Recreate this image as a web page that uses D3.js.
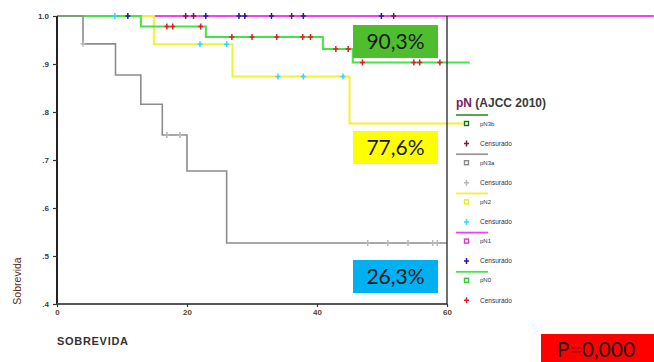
<!DOCTYPE html>
<html>
<head>
<meta charset="utf-8">
<script src="https://cdn.jsdelivr.net/npm/d3@7"></script>
<style>
  html, body { margin: 0; padding: 0; background: #fff; }
  svg { display: block; }
</style>
</head>
<body>
<svg id="chart" width="654" height="362"></svg>
<script>
// Kaplan-Meier survival by nodal stage, pN (AJCC 2010)
const groupNames = ["pN3b", "pN3a", "pN2", "pN1", "pN0"];

// step times (months) and survival after each step
const pN3bTimes = [0];
const pN3bSurv = [1.0];
const pN3bCensored = [19.8, 21.0, 36.1, 51.8];
const pN3bEnd = 60;

const pN3aTimes = [0, 4.0, 9.0, 12.9, 16.2, 20.0, 26.1];
const pN3aSurv = [1.0, 0.942, 0.877, 0.816, 0.752, 0.677, 0.527];
const pN3aCensored = [4.0, 16.9, 18.9, 47.8, 50.9, 54.0, 57.8, 58.5];
const pN3aEnd = 60;

const pN2Times = [0, 14.9, 27.0, 45.0];
const pN2Surv = [1.0, 0.941, 0.874, 0.776];
const pN2Censored = [8.9, 22.0, 26.1, 34.0, 37.9, 44.0];
const pN2End = 62.5;

const pN1Times = [0];
const pN1Surv = [1.0];
const pN1Censored = [10.9, 22.9, 28.0, 28.9, 33.0, 37.9, 49.9];
const pN1End = 91.8;

const pN0Times = [0, 12.9, 22.9, 40.9, 45.5];
const pN0Surv = [1.0, 0.978, 0.956, 0.931, 0.903];
const pN0Censored = [16.9, 17.8, 22.1, 26.9, 30.0, 33.8, 37.8, 39.0, 42.9, 44.8, 47.0, 54.9, 55.8, 58.9];
const pN0End = 63.5;

const xTicks = [0, 20, 40, 60];
const yTicks = [0.4, 0.5, 0.6, 0.7, 0.8, 0.9, 1.0];
const yTickLabels = [".4", ".5", ".6", ".7", ".8", ".9", "1.0"];

const boxLabels = ["90,3%", "77,6%", "26,3%"];
const boxValues = [0.903, 0.776, 0.263];
const pValueLabel = "P=0,000";

const legendTitle = ["pN", " (AJCC 2010)"];
const censorLabel = "Censurado";

// styling per group
const styles = {
  pN3b: { line: "#2f8f2f", legendLine: "#3f9f3f", marker: "#1f6f1f", censor: "#7a1a35", width: 2 },
  pN3a: { line: "#8c8c8c", legendLine: "#9a9a9a", marker: "#8a8a8a", censor: "#b8b8b8", width: 1.6 },
  pN2:  { line: "#f2f230", legendLine: "#f2f230", marker: "#e8e820", censor: "#30d8f8", width: 2 },
  pN1:  { line: "#f540f0", legendLine: "#f540f0", marker: "#e030e0", censor: "#1c1c9a", width: 2 },
  pN0:  { line: "#44e444", legendLine: "#44e444", marker: "#33cc33", censor: "#e02020", width: 2 }
};

const groups = {
  pN3b: { times: pN3bTimes, surv: pN3bSurv, cens: pN3bCensored, end: pN3bEnd },
  pN3a: { times: pN3aTimes, surv: pN3aSurv, cens: pN3aCensored, end: pN3aEnd },
  pN2:  { times: pN2Times,  surv: pN2Surv,  cens: pN2Censored,  end: pN2End },
  pN1:  { times: pN1Times,  surv: pN1Surv,  cens: pN1Censored,  end: pN1End },
  pN0:  { times: pN0Times,  surv: pN0Surv,  cens: pN0Censored,  end: pN0End }
};

const svg = d3.select("#chart");
const x = d3.scaleLinear().domain([0, 60]).range([57, 447]);
const y = d3.scaleLinear().domain([0.4, 1.0]).range([304, 16]);

function survAt(g, t) {
  let s = g.surv[0];
  for (let i = 0; i < g.times.length; i++) if (g.times[i] <= t) s = g.surv[i];
  return s;
}

const line = d3.line().x(d => x(d[0])).y(d => y(d[1])).curve(d3.curveStepAfter);

// draw order: lower layers first
const drawOrder = ["pN3b", "pN1", "pN2", "pN0", "pN3a"];
const curves = svg.append("g");
drawOrder.forEach(name => {
  const g = groups[name];
  const pts = g.times.map((t, i) => [t, g.surv[i]]);
  pts.push([g.end, g.surv[g.surv.length - 1]]);
  curves.append("path")
    .attr("d", line(pts))
    .attr("fill", "none")
    .attr("stroke", styles[name].line)
    .attr("stroke-width", styles[name].width);
});

// censoring ticks
const censors = svg.append("g");
drawOrder.forEach(name => {
  const g = groups[name];
  g.cens.forEach(t => {
    const cx = x(t), cy = y(survAt(g, t));
    censors.append("path")
      .attr("d", `M${cx - 2.5},${cy}H${cx + 2.5}M${cx},${cy - 3}V${cy + 3}`)
      .attr("stroke", styles[name].censor)
      .attr("stroke-width", 1.5);
  });
});

// axes
const yAxis = svg.append("g").attr("transform", "translate(57,0)")
  .call(d3.axisLeft(y).tickValues(yTicks).tickSize(4).tickPadding(4)
    .tickFormat((d, i) => yTickLabels[i]));
yAxis.select(".domain").attr("stroke", "#222").attr("stroke-width", 2).attr("d", "M0,16V304");
yAxis.selectAll(".tick line").attr("stroke", "#333").attr("stroke-width", 1.2);
yAxis.selectAll(".tick text")
  .attr("font-family", "Liberation Sans, Arial, sans-serif")
  .attr("font-size", 8).attr("font-weight", "bold").attr("fill", "#34405a");

const xAxis = svg.append("g").attr("transform", "translate(0,304)")
  .call(d3.axisBottom(x).tickValues(xTicks).tickSize(3).tickPadding(2).tickFormat(d3.format("d")));
xAxis.select(".domain").attr("stroke", "#555").attr("stroke-width", 2).attr("d", "M57,0H447");
xAxis.selectAll(".tick line").attr("stroke", "#333").attr("stroke-width", 1.2);
xAxis.selectAll(".tick text")
  .attr("font-family", "Liberation Sans, Arial, sans-serif")
  .attr("font-size", 8).attr("font-weight", "bold").attr("fill", "#5a4526");

// right frame edge
svg.append("line")
  .attr("x1", x(60)).attr("x2", x(60)).attr("y1", y(1.0)).attr("y2", y(0.4))
  .attr("stroke", "#222").attr("stroke-width", 1.3);

// axis titles
svg.append("text")
  .attr("transform", "translate(21,281) rotate(-90)")
  .attr("text-anchor", "middle")
  .attr("font-family", "Liberation Sans, Arial, sans-serif")
  .attr("font-size", 10.5).attr("fill", "#5b2c26")
  .text("Sobrevida");

svg.append("text")
  .attr("x", 57).attr("y", 345)
  .attr("font-family", "Liberation Sans, Arial, sans-serif")
  .attr("font-size", 11).attr("font-weight", "bold").attr("letter-spacing", 0.7)
  .attr("fill", "#333")
  .text("SOBREVIDA");

// legend
const legend = svg.append("g");
const lt = legend.append("text")
  .attr("x", 456).attr("y", 106.5)
  .attr("font-family", "Liberation Sans, Arial, sans-serif")
  .attr("font-size", 12).attr("font-weight", "bold").attr("fill", "#3a3a3a");
lt.append("tspan").attr("fill", "#7a2058").text(legendTitle[0]);
lt.append("tspan").text(legendTitle[1]);

groupNames.forEach((name, i) => {
  const top = 115 + i * 39.2;
  const st = styles[name];
  legend.append("line")
    .attr("x1", 456).attr("x2", 488).attr("y1", top).attr("y2", top)
    .attr("stroke", st.legendLine).attr("stroke-width", 1.8);
  legend.append("rect")
    .attr("x", 464.5).attr("y", top + 6.5).attr("width", 4).attr("height", 4)
    .attr("fill", "none").attr("stroke", st.marker).attr("stroke-width", 1.4);
  legend.append("text")
    .attr("x", 480).attr("y", top + 10.5)
    .attr("font-family", "Liberation Sans, Arial, sans-serif")
    .attr("font-size", 6).attr("fill", "#2a2f55")
    .text(name);
  const cy = top + 28.5, cx = 466.5;
  legend.append("path")
    .attr("d", `M${cx - 2.5},${cy}H${cx + 2.5}M${cx},${cy - 3}V${cy + 3}`)
    .attr("stroke", st.censor).attr("stroke-width", 1.5);
  legend.append("text")
    .attr("x", 480).attr("y", cy + 2.2)
    .attr("font-family", "Liberation Sans, Arial, sans-serif")
    .attr("font-size", 6.5).attr("fill", "#2a2f55")
    .text(censorLabel);
});

// percentage boxes
const boxFill = ["#4fbe2e", "#ffff00", "#00b0f0"];
const boxTop = [25, 131, 260];
boxLabels.forEach((lab, i) => {
  svg.append("rect")
    .attr("x", 353).attr("y", boxTop[i]).attr("width", 85).attr("height", 33)
    .attr("fill", boxFill[i]);
  svg.append("text")
    .attr("x", 353 + 42.5).attr("y", boxTop[i] + 24)
    .attr("text-anchor", "middle")
    .attr("font-family", "Lato, Open Sans, sans-serif")
    .attr("font-size", 21).attr("fill", "#1a1a1a")
    .text(lab);
});

// p-value box
svg.append("rect")
  .attr("x", 541).attr("y", 334).attr("width", 113).attr("height", 28)
  .attr("fill", "#ff0000");
svg.append("text")
  .attr("x", 596).attr("y", 357)
  .attr("text-anchor", "middle")
  .attr("font-family", "Lato, Open Sans, sans-serif")
  .attr("font-size", 21).attr("fill", "#1a1a1a")
  .text(pValueLabel);
</script>
</body>
</html>
